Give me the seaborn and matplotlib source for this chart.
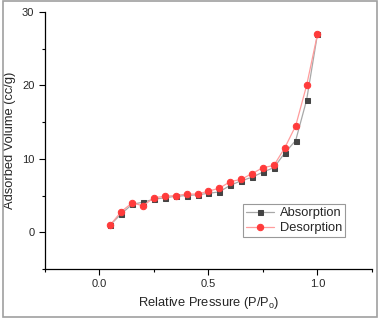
import numpy as np
import pandas as pd
import matplotlib
matplotlib.use("Agg")
import matplotlib.pyplot as plt
import seaborn as sns
from matplotlib.ticker import MultipleLocator
from matplotlib.patches import Rectangle

# Isotherm data
rel_pressure = [0.05, 0.10, 0.15, 0.20, 0.25, 0.30, 0.35, 0.40, 0.45, 0.50,
                0.55, 0.60, 0.65, 0.70, 0.75, 0.80, 0.85, 0.90, 0.95, 1.00]
absorption = [1.0, 2.5, 3.8, 4.1, 4.5, 4.7, 4.9, 5.0, 5.1, 5.3,
              5.5, 6.4, 7.0, 7.5, 8.2, 8.8, 10.8, 12.5, 18.0, 27.0]
desorption = [1.0, 2.8, 4.0, 3.6, 4.7, 4.9, 5.0, 5.2, 5.2, 5.6,
              6.0, 6.9, 7.2, 8.0, 8.8, 9.1, 11.5, 14.5, 20.0, 27.0]

df = pd.DataFrame({"P": rel_pressure, "Absorption": absorption, "Desorption": desorption})

sns.set_style("ticks")
plt.rcParams['font.family'] = ['Liberation Sans', 'DejaVu Sans']
plt.rcParams['mathtext.fontset'] = 'custom'
plt.rcParams['mathtext.rm'] = 'Liberation Sans'

fig = plt.figure(figsize=(3.8, 3.19), dpi=100)
ax = fig.add_axes([0.118, 0.157, 0.861, 0.805])

sns.lineplot(x="P", y="Absorption", data=df, ax=ax, color="#a8a8a8", linewidth=0.9,
             marker="s", markersize=3.6, markerfacecolor="#444444",
             markeredgecolor="#444444", label="Absorption")
sns.lineplot(x="P", y="Desorption", data=df, ax=ax, color="#ff9c9c", linewidth=0.9,
             marker="o", markersize=4.6, markerfacecolor="#ff3b3b",
             markeredgecolor="#ff3b3b", label="Desorption")

ax.set_xlim(-0.25, 1.25)
ax.set_ylim(-5, 30)
ax.xaxis.set_major_locator(MultipleLocator(0.5))
ax.xaxis.set_minor_locator(MultipleLocator(0.25))
ax.yaxis.set_major_locator(MultipleLocator(10))
ax.yaxis.set_minor_locator(MultipleLocator(5))
ax.tick_params(which="major", direction="out", length=4, width=0.8, labelsize=8, color="black")
ax.tick_params(which="minor", direction="out", length=2.5, width=0.8, color="black")
sns.despine(ax=ax)
for s in ["left", "bottom"]:
    ax.spines[s].set_color("black")
    ax.spines[s].set_linewidth(0.9)

ax.set_xlabel("Relative Pressure (P/P$_\\mathrm{o}$)", fontsize=9.3)
ax.set_ylabel("Adsorbed Volume (cc/g)", fontsize=9.3)

leg = ax.legend(loc="upper left", bbox_to_anchor=(0.605, 0.252), fontsize=9.3,
                frameon=True, fancybox=False, edgecolor="#999999", framealpha=1,
                handlelength=2.2, borderpad=0.25, labelspacing=0.2, handletextpad=0.4,
                borderaxespad=0)
leg.get_frame().set_linewidth(0.8)

# grey border round the whole figure
fig.patches.append(Rectangle((0.008, 0.005), 0.985, 0.993, transform=fig.transFigure,
                             fill=False, edgecolor="#a0a0a0", linewidth=1.2))

fig.savefig("out.png", dpi=100)
